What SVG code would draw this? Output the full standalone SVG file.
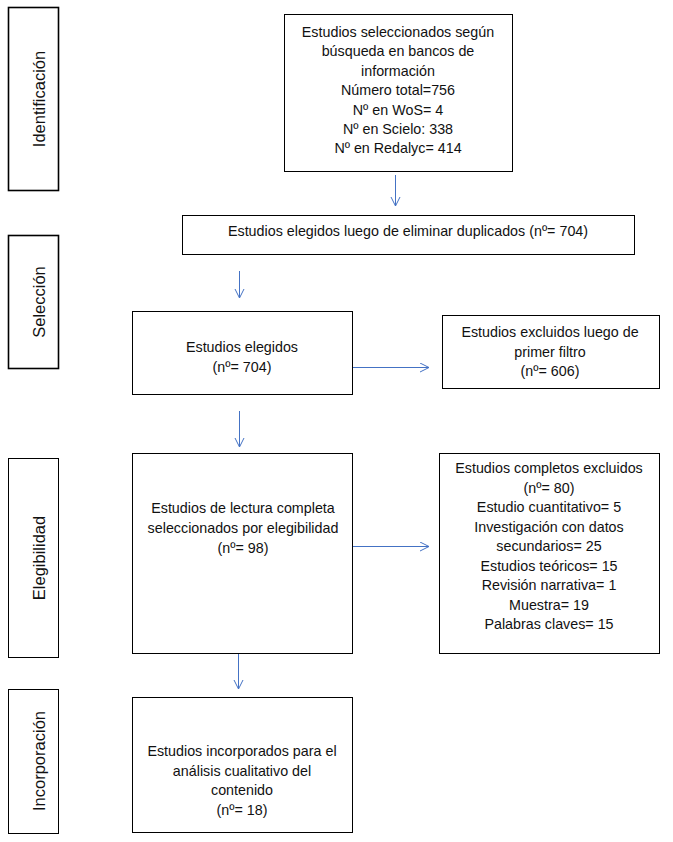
<svg xmlns="http://www.w3.org/2000/svg" width="673" height="842" viewBox="0 0 673 842">
<style>
  .box{fill:#fff;stroke:#000;stroke-width:1}
  .side{fill:#fff;stroke:#000;stroke-width:1.6}
  .side2{fill:#fff;stroke:#000;stroke-width:1}
  text{font-family:"Liberation Sans",Arial,sans-serif;font-size:14.3px;fill:#111;text-anchor:middle}
  .lbl{font-size:16.5px}
  .conn{stroke:#4472C4;stroke-width:1;fill:none;marker-end:url(#arr)}
</style>
<defs>
  <marker id="arr" markerUnits="userSpaceOnUse" markerWidth="12" markerHeight="12" refX="10" refY="5" orient="auto">
    <path d="M1,0.5 L10,5 L1,9.5" fill="none" stroke="#4472C4" stroke-width="1"/>
  </marker>
</defs>
<rect width="673" height="842" fill="#fff"/>

<g id="phase-identificacion">
  <rect class="side" x="8.5" y="7.5" width="50" height="183"/>
  <text class="lbl" transform="translate(45,99) rotate(-90)">Identificación</text>
</g>
<g id="phase-seleccion">
  <rect class="side" x="8.5" y="235.5" width="50" height="133"/>
  <text class="lbl" transform="translate(45,302) rotate(-90)">Selección</text>
</g>
<g id="phase-elegibilidad">
  <rect class="side2" x="8.5" y="458.5" width="50" height="199"/>
  <text class="lbl" transform="translate(45,558) rotate(-90)">Elegibilidad</text>
</g>
<g id="phase-incorporacion">
  <rect class="side2" x="8.5" y="689.5" width="50" height="144"/>
  <text class="lbl" transform="translate(45,761) rotate(-90)">Incorporación</text>
</g>

<g id="n-busqueda">
  <rect class="box" x="284.5" y="14.5" width="228" height="157"/>
  <text x="398" y="37">Estudios seleccionados según</text>
  <text x="398" y="56.4">búsqueda en bancos de</text>
  <text x="398" y="75.8">información</text>
  <text x="398" y="95.2">Número total=756</text>
  <text x="398" y="114.6">Nº en WoS= 4</text>
  <text x="398" y="134">Nº en Scielo: 338</text>
  <text x="398" y="153.4">Nº en Redalyc= 414</text>
</g>
<g id="n-duplicados">
  <rect class="box" x="182.5" y="215.5" width="452" height="39"/>
  <text x="408" y="236">Estudios elegidos luego de eliminar duplicados (nº= 704)</text>
</g>
<g id="n-elegidos">
  <rect class="box" x="132.5" y="311.5" width="220" height="83"/>
  <text x="242" y="352">Estudios elegidos</text>
  <text x="242" y="372">(nº= 704)</text>
</g>
<g id="n-excluidos1">
  <rect class="box" x="442.5" y="315.5" width="217" height="73"/>
  <text x="550" y="337">Estudios excluidos luego de</text>
  <text x="550" y="357">primer filtro</text>
  <text x="550" y="376">(nº= 606)</text>
</g>
<g id="n-lectura">
  <rect class="box" x="132.5" y="453.5" width="220" height="200"/>
  <text x="243" y="513">Estudios de lectura completa</text>
  <text x="243" y="533">seleccionados por elegibilidad</text>
  <text x="243" y="553">(nº= 98)</text>
</g>
<g id="n-excluidos2">
  <rect class="box" x="439.5" y="453.5" width="220" height="200"/>
  <text x="549" y="473">Estudios completos excluidos</text>
  <text x="549" y="492.5">(nº= 80)</text>
  <text x="549" y="512">Estudio cuantitativo= 5</text>
  <text x="549" y="531.5">Investigación con datos</text>
  <text x="549" y="551">secundarios= 25</text>
  <text x="549" y="570.5">Estudios teóricos= 15</text>
  <text x="549" y="590">Revisión narrativa= 1</text>
  <text x="549" y="609.5">Muestra= 19</text>
  <text x="549" y="629">Palabras claves= 15</text>
</g>
<g id="n-incorporados">
  <rect class="box" x="132.5" y="697.5" width="220" height="135"/>
  <text x="242" y="756">Estudios incorporados para el</text>
  <text x="242" y="775.5">análisis cualitativo del</text>
  <text x="242" y="795">contenido</text>
  <text x="242" y="814.5">(nº= 18)</text>
</g>

<g id="connectors">
  <line class="conn" x1="395.5" y1="175" x2="395.5" y2="206"/>
  <line class="conn" x1="239.5" y1="271" x2="239.5" y2="298"/>
  <line class="conn" x1="353" y1="367.5" x2="429" y2="367.5"/>
  <line class="conn" x1="239.5" y1="411" x2="239.5" y2="447"/>
  <line class="conn" x1="353" y1="546.5" x2="429" y2="546.5"/>
  <line class="conn" x1="238.5" y1="654" x2="238.5" y2="689"/>
</g>
</svg>
